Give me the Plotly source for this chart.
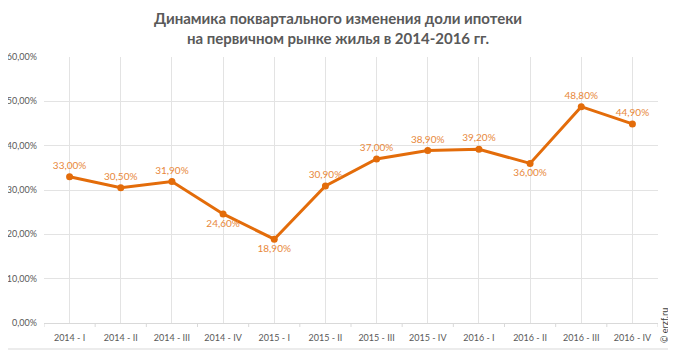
import plotly.graph_objects as go

categories = ["2014 - I", "2014 - II", "2014 - III", "2014 - IV",
              "2015 - I", "2015 - II", "2015 - III", "2015 - IV",
              "2016 - I", "2016 - II", "2016 - III", "2016 - IV"]
values = [33.0, 30.5, 31.9, 24.6, 18.9, 30.9, 37.0, 38.9, 39.2, 36.0, 48.8, 44.9]
label_pos = ["top center", "top center", "top center", "bottom center",
             "bottom center", "top center", "top center", "top center",
             "top center", "bottom center", "top center", "top center"]
y_ticks = [0, 10, 20, 30, 40, 50, 60]
y_ticklabels = ["0,00%", "10,00%", "20,00%", "30,00%", "40,00%", "50,00%", "60,00%"]

FONT = "Lato, Open Sans, sans-serif"
line_color = "#E36C0A"
label_color = "#E8883A"

W, H = 676, 355
L, R, T, B = 36, 26, 49, 40
pw, ph = W - L - R, H - T - B

fig = go.Figure()
fig.add_trace(go.Scatter(
    x=categories, y=values, mode="lines+markers+text",
    line=dict(color=line_color, width=3),
    marker=dict(color=line_color, size=7),
    text=[f"{v:.2f}%".replace(".", ",") for v in values],
    textposition=label_pos,
    textfont=dict(color=label_color, size=10, family=FONT),
    cliponaxis=False,
    hoverinfo="skip",
))

shapes = []
for i in range(len(categories) + 1):
    shapes.append(dict(type="line", xref="x", yref="paper",
                       x0=i - 0.5, x1=i - 0.5, y0=0, y1=-4 / ph,
                       line=dict(color="#D9D9D9", width=1)))
bx = (662 - L) / pw
by = (T + ph - 341) / ph
shapes.append(dict(type="line", xref="paper", yref="paper",
                   x0=bx, x1=bx, y0=by, y1=1 + T / ph,
                   line=dict(color="#D9D9D9", width=1)))
shapes.append(dict(type="line", xref="paper", yref="paper",
                   x0=-L / pw, x1=bx, y0=by, y1=by,
                   line=dict(color="#D9D9D9", width=1)))

fig.update_layout(
    width=W, height=H,
    margin=dict(l=L, r=R, t=T, b=B, autoexpand=False),
    paper_bgcolor="white", plot_bgcolor="white",
    showlegend=False,
    font=dict(family=FONT, color="#595959"),
    title=dict(
        text="<b>Динамика поквартального изменения доли ипотеки<br>на первичном рынке жилья в 2014-2016 гг.</b>",
        x=(338 - 8) / W, xanchor="center", yref="container",
        y=1 - 16 / H, yanchor="middle",
        font=dict(size=15, color="#595959", family=FONT),
    ),
    xaxis=dict(
        type="category", range=[-0.5, len(categories) - 0.5],
        showgrid=True, gridcolor="#E3E3E3", gridwidth=1,
        showline=True, linecolor="#D9D9D9", linewidth=1,
        ticks="", tickfont=dict(size=9, color="#595959", family=FONT),
        ticklabelstandoff=6, automargin=False,
        zeroline=False, fixedrange=True,
    ),
    yaxis=dict(
        range=[0, 60], tickvals=y_ticks, ticktext=y_ticklabels,
        showgrid=True, gridcolor="#E3E3E3", gridwidth=1,
        showline=False, zeroline=False, ticks="",
        tickfont=dict(size=9, color="#595959", family=FONT),
        ticklabelstandoff=6, automargin=False,
    ),
    shapes=shapes,
    annotations=[dict(
        text="© erzf.ru", xref="paper", yref="paper",
        x=(656 - L) / pw, y=(T + ph - 318) / ph,
        xanchor="center", yanchor="middle",
        textangle=-90, showarrow=False,
        font=dict(size=9, color="#404040", family=FONT),
    )],
)

fig.write_html("out.html")
